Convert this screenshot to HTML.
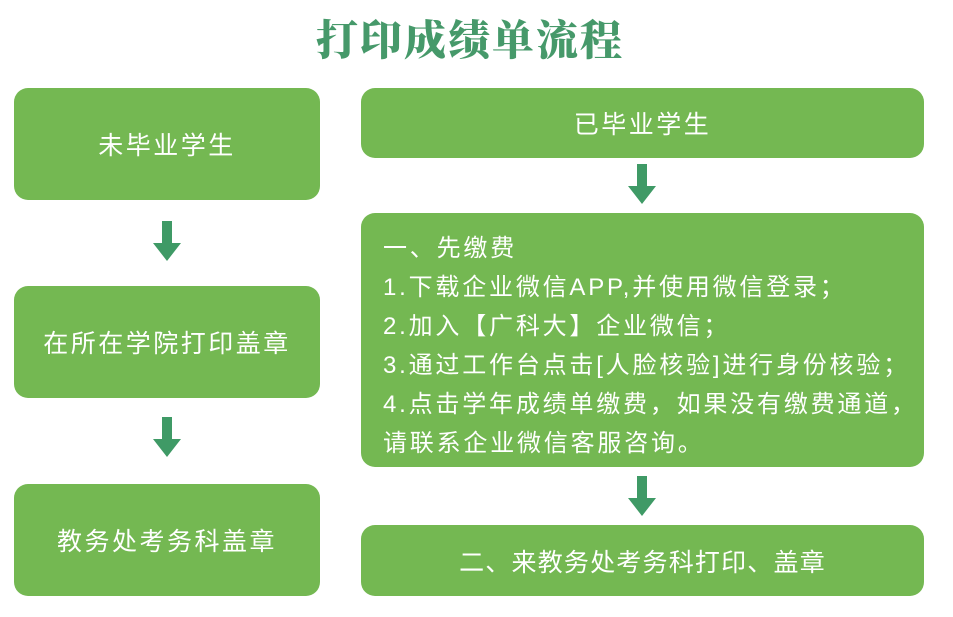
<!DOCTYPE html>
<html><head><meta charset="utf-8"><style>
body{margin:0;width:953px;height:617px;background:#fff;position:relative;overflow:hidden;font-family:"Liberation Sans","Noto Sans CJK SC",sans-serif;}
.t{position:absolute;left:0;width:940px;top:10px;text-align:center;font-family:"Noto Serif CJK SC",serif;font-weight:900;font-size:42px;color:#46996a;line-height:56px;letter-spacing:2px}
.b{position:absolute;background:#74b852;border-radius:14px;color:#fff;display:flex;align-items:center;justify-content:center;font-size:25px;letter-spacing:2.5px}
.a{position:absolute;width:28px;height:40px}
.m{font-size:24px;line-height:39px;white-space:nowrap;letter-spacing:2.8px;box-sizing:border-box}
</style></head><body>
<div class="t">打印成绩单流程</div>
<div class="b" style="left:14px;top:88px;width:306px;height:112px">未毕业学生</div>
<div class="b" style="left:14px;top:286px;width:306px;height:112px">在所在学院打印盖章</div>
<div class="b" style="left:14px;top:484px;width:306px;height:112px">教务处考务科盖章</div>
<div class="b" style="left:361px;top:88px;width:563px;height:70px">已毕业学生</div>
<div class="b m" style="left:361px;top:213px;width:563px;height:254px;display:block;padding:16px 0 0 22px">一、先缴费<br>1.下载企业微信APP,并使用微信登录；<br>2.加入【广科大】企业微信；<br>3.通过工作台点击[人脸核验]进行身份核验；<br>4.点击学年成绩单缴费，如果没有缴费通道，<br>请联系企业微信客服咨询。</div>
<div class="b" style="left:361px;top:525px;width:563px;height:71px;letter-spacing:1.2px">二、来教务处考务科打印、盖章</div>
<svg class="a" style="left:153px;top:221px" viewBox="0 0 28 40"><polygon points="9,0 19,0 19,22 28,22 14,40 0,22 9,22" fill="#3f9a66"/></svg>
<svg class="a" style="left:153px;top:417px" viewBox="0 0 28 40"><polygon points="9,0 19,0 19,22 28,22 14,40 0,22 9,22" fill="#3f9a66"/></svg>
<svg class="a" style="left:628px;top:164px" viewBox="0 0 28 40"><polygon points="9,0 19,0 19,22 28,22 14,40 0,22 9,22" fill="#3f9a66"/></svg>
<svg class="a" style="left:628px;top:476px" viewBox="0 0 28 40"><polygon points="9,0 19,0 19,22 28,22 14,40 0,22 9,22" fill="#3f9a66"/></svg>
</body></html>
